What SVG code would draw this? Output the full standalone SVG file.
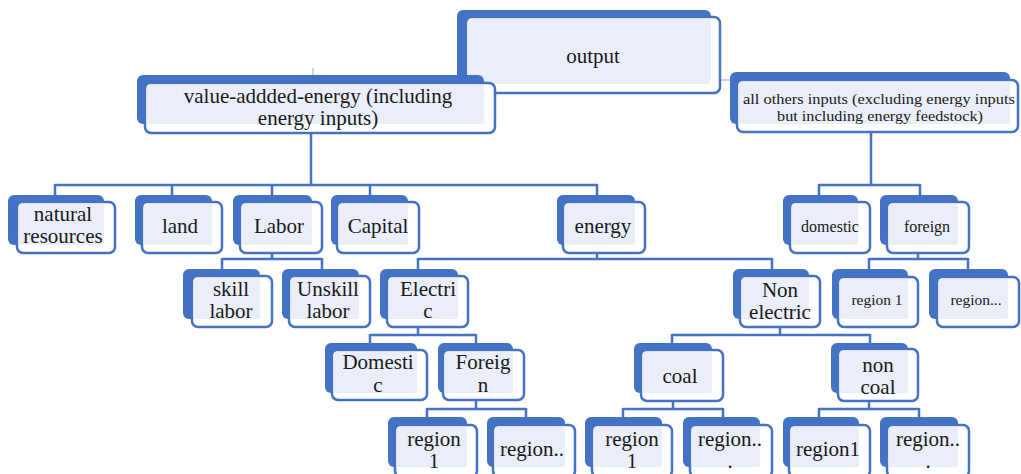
<svg xmlns="http://www.w3.org/2000/svg" width="1021" height="474" viewBox="0 0 1021 474">
<style>
.bk{fill:#4472C4}
.fr{fill:#fff;stroke:#4472C4;stroke-width:2.5}
.lt{fill:#E9EEF8}
.t{font-family:"Liberation Serif","Times New Roman",serif;font-size:21px;fill:#1a1a1a;text-anchor:middle}
.s{font-size:16px}
.c{stroke:#4472C4;stroke-width:2.5;fill:none}
.f{stroke:#D0D8EA;stroke-width:2;fill:none}
</style>
<rect width="1021" height="474" fill="#fff"/>
<g id="connectors">
<path class="f" d="M313 68V75M720 80H737"/>
<path class="c" d="M311 133V185M55 185H597M55 184V195M172 184V195M272 184V195M370 184V195M597 184V195"/>
<path class="c" d="M871 132V185M819 185H920M819 184V195M920 184V195"/>
<path class="c" d="M272 253V259M222 259H322M222 258V269M322 258V269"/>
<path class="c" d="M597 253V259M418 259H772M418 258V269M772 258V269"/>
<path class="c" d="M918 253V259M869 259H968M869 258V269M968 258V269"/>
<path class="c" d="M418 327V335M370 335H476M370 334V343M476 334V343"/>
<path class="c" d="M780 327V335M672 335H870M672 334V343M870 334V343"/>
<path class="c" d="M476 400V409M427 409H526M427 408V417M526 408V417"/>
<path class="c" d="M673 401V409M623 409H723M623 408V417M723 408V417"/>
<path class="c" d="M869 401V409M819 409H919M819 408V417M919 408V417"/>
</g>
<g id="output">
<rect class="bk" x="457" y="10" width="254" height="74" rx="6"/>
<rect class="fr" x="466" y="17" width="254" height="76" rx="6"/>
<rect class="lt" x="467.5" y="18.5" width="243.5" height="65.5" rx="4"/>
<text class="t" x="593" y="63">output</text>
</g>
<g id="value-added">
<rect class="bk" x="137" y="75" width="347" height="49" rx="6"/>
<rect class="fr" x="145" y="83" width="350" height="50" rx="6"/>
<rect class="lt" x="146.5" y="84.5" width="337.5" height="39.5" rx="3"/>
<text class="t" x="318" y="103">value-addded-energy (including</text>
<text class="t" x="318" y="125">energy inputs)</text>
</g>
<g id="others">
<rect class="bk" x="730" y="72" width="280" height="52" rx="6"/>
<rect class="fr" x="737" y="80" width="281" height="52" rx="6"/>
<rect class="lt" x="738.5" y="81.5" width="271.5" height="42.5" rx="3"/>
<text class="t" x="879" y="104" style="font-size:15px" textLength="272" lengthAdjust="spacingAndGlyphs">all others inputs (excluding energy inputs</text>
<text class="t" x="880" y="121" style="font-size:15px" textLength="206" lengthAdjust="spacingAndGlyphs">but including energy feedstock)</text>
</g>
<g id="natural">
<rect class="bk" x="8" y="195" width="96" height="50" rx="6"/>
<rect class="fr" x="17" y="202" width="98" height="51" rx="6"/>
<rect class="lt" x="18.5" y="203.5" width="85.5" height="41.5" rx="3"/>
<text class="t" x="63" y="221">natural</text>
<text class="t" x="63" y="243">resources</text>
</g>
<g id="land">
<rect class="bk" x="135" y="195" width="77" height="50" rx="6"/>
<rect class="fr" x="142" y="202" width="80" height="51" rx="6"/>
<rect class="lt" x="143.5" y="203.5" width="68.5" height="41.5" rx="3"/>
<text class="t" x="180" y="233">land</text>
</g>
<g id="labor">
<rect class="bk" x="233" y="195" width="79" height="50" rx="6"/>
<rect class="fr" x="240" y="202" width="82" height="51" rx="6"/>
<rect class="lt" x="241.5" y="203.5" width="70.5" height="41.5" rx="3"/>
<text class="t" x="279" y="233">Labor</text>
</g>
<g id="capital">
<rect class="bk" x="331" y="195" width="77" height="50" rx="6"/>
<rect class="fr" x="337" y="202" width="82" height="51" rx="6"/>
<rect class="lt" x="338.5" y="203.5" width="69.5" height="41.5" rx="3"/>
<text class="t" x="378" y="233">Capital</text>
</g>
<g id="energy">
<rect class="bk" x="557" y="195" width="78" height="50" rx="6"/>
<rect class="fr" x="563" y="202" width="82" height="51" rx="6"/>
<rect class="lt" x="564.5" y="203.5" width="70.5" height="41.5" rx="3"/>
<text class="t" x="603" y="233">energy</text>
</g>
<g id="domestic">
<rect class="bk" x="783" y="195" width="75" height="50" rx="6"/>
<rect class="fr" x="790" y="202" width="80" height="51" rx="6"/>
<rect class="lt" x="791.5" y="203.5" width="66.5" height="41.5" rx="3"/>
<text class="t s" x="830" y="232">domestic</text>
</g>
<g id="foreign">
<rect class="bk" x="880" y="195" width="78" height="50" rx="6"/>
<rect class="fr" x="887" y="202" width="82" height="51" rx="6"/>
<rect class="lt" x="888.5" y="203.5" width="69.5" height="41.5" rx="3"/>
<text class="t s" x="927" y="232">foreign</text>
</g>
<g id="skill">
<rect class="bk" x="183" y="269" width="77" height="50" rx="6"/>
<rect class="fr" x="192" y="276" width="80" height="51" rx="6"/>
<rect class="lt" x="193.5" y="277.5" width="66.5" height="41.5" rx="3"/>
<text class="t" x="231" y="296">skill</text>
<text class="t" x="231" y="318">labor</text>
</g>
<g id="unskill">
<rect class="bk" x="282" y="269" width="77" height="50" rx="6"/>
<rect class="fr" x="289" y="276" width="81" height="51" rx="6"/>
<rect class="lt" x="290.5" y="277.5" width="68.5" height="41.5" rx="3"/>
<text class="t" x="328" y="296">Unskill</text>
<text class="t" x="328" y="318">labor</text>
</g>
<g id="electric">
<rect class="bk" x="380" y="269" width="78" height="50" rx="6"/>
<rect class="fr" x="387" y="276" width="81" height="51" rx="6"/>
<rect class="lt" x="388.5" y="277.5" width="69.5" height="41.5" rx="3"/>
<text class="t" x="428" y="296">Electri</text>
<text class="t" x="428" y="318">c</text>
</g>
<g id="nonelectric">
<rect class="bk" x="733" y="269" width="76" height="50" rx="6"/>
<rect class="fr" x="740" y="276" width="80" height="51" rx="6"/>
<rect class="lt" x="741.5" y="277.5" width="67.5" height="41.5" rx="3"/>
<text class="t" x="780" y="297">Non</text>
<text class="t" x="780" y="319">electric</text>
</g>
<g id="region1-foreign">
<rect class="bk" x="832" y="269" width="76" height="50" rx="6"/>
<rect class="fr" x="838" y="277" width="80" height="50" rx="6"/>
<rect class="lt" x="839.5" y="278.5" width="68.5" height="40.5" rx="3"/>
<text class="t" x="877" y="305" style="font-size:15.5px">region 1</text>
</g>
<g id="regionx-foreign">
<rect class="bk" x="929" y="269" width="79" height="50" rx="6"/>
<rect class="fr" x="937" y="277" width="82" height="50" rx="6"/>
<rect class="lt" x="938.5" y="278.5" width="69.5" height="40.5" rx="3"/>
<text class="t" x="976" y="305" style="font-size:15.5px">region...</text>
</g>
<g id="domestic-c">
<rect class="bk" x="325" y="343" width="92" height="50" rx="6"/>
<rect class="fr" x="332" y="350" width="95" height="50" rx="6"/>
<rect class="lt" x="333.5" y="351.5" width="83.5" height="41.5" rx="3"/>
<text class="t" x="378" y="369">Domesti</text>
<text class="t" x="378" y="392">c</text>
</g>
<g id="foreign-n">
<rect class="bk" x="438" y="343" width="75" height="50" rx="6"/>
<rect class="fr" x="443" y="350" width="81" height="50" rx="6"/>
<rect class="lt" x="444.5" y="351.5" width="68.5" height="41.5" rx="3"/>
<text class="t" x="483" y="369">Foreig</text>
<text class="t" x="483" y="392">n</text>
</g>
<g id="coal">
<rect class="bk" x="634" y="343" width="78" height="50" rx="6"/>
<rect class="fr" x="641" y="350" width="82" height="51" rx="6"/>
<rect class="lt" x="642.5" y="351.5" width="69.5" height="41.5" rx="3"/>
<text class="t" x="680" y="383">coal</text>
</g>
<g id="noncoal">
<rect class="bk" x="831" y="343" width="77" height="50" rx="6"/>
<rect class="fr" x="838" y="349" width="80" height="52" rx="6"/>
<rect class="lt" x="839.5" y="350.5" width="68.5" height="42.5" rx="3"/>
<text class="t" x="878" y="372">non</text>
<text class="t" x="878" y="394">coal</text>
</g>
<g id="region1-elec">
<rect class="bk" x="388" y="417" width="79" height="50" rx="6"/>
<rect class="fr" x="395" y="425" width="82" height="52" rx="6"/>
<rect class="lt" x="396.5" y="426.5" width="70.5" height="40.5" rx="3"/>
<text class="t" x="434" y="446">region</text>
<text class="t" x="434" y="468">1</text>
</g>
<g id="regionx-elec">
<rect class="bk" x="487" y="417" width="78" height="50" rx="6"/>
<rect class="fr" x="493" y="425" width="82" height="52" rx="6"/>
<rect class="lt" x="494.5" y="426.5" width="70.5" height="40.5" rx="3"/>
<text class="t" x="532" y="456">region..</text>
</g>
<g id="region1-coal">
<rect class="bk" x="585" y="417" width="77" height="50" rx="6"/>
<rect class="fr" x="592" y="425" width="80" height="52" rx="6"/>
<rect class="lt" x="593.5" y="426.5" width="68.5" height="40.5" rx="3"/>
<text class="t" x="632" y="446">region</text>
<text class="t" x="632" y="468">1</text>
</g>
<g id="regionx-coal">
<rect class="bk" x="683" y="417" width="77" height="50" rx="6"/>
<rect class="fr" x="690" y="425" width="82" height="52" rx="6"/>
<rect class="lt" x="691.5" y="426.5" width="68.5" height="40.5" rx="3"/>
<text class="t" x="730" y="446">region..</text>
<text class="t" x="730" y="468">.</text>
</g>
<g id="region1-noncoal">
<rect class="bk" x="783" y="417" width="76" height="50" rx="6"/>
<rect class="fr" x="789" y="425" width="81" height="52" rx="6"/>
<rect class="lt" x="790.5" y="426.5" width="68.5" height="40.5" rx="3"/>
<text class="t" x="828" y="456">region1</text>
</g>
<g id="regionx-noncoal">
<rect class="bk" x="880" y="417" width="78" height="50" rx="6"/>
<rect class="fr" x="887" y="425" width="82" height="52" rx="6"/>
<rect class="lt" x="888.5" y="426.5" width="69.5" height="40.5" rx="3"/>
<text class="t" x="928" y="446">region..</text>
<text class="t" x="928" y="468">.</text>
</g>
</svg>
